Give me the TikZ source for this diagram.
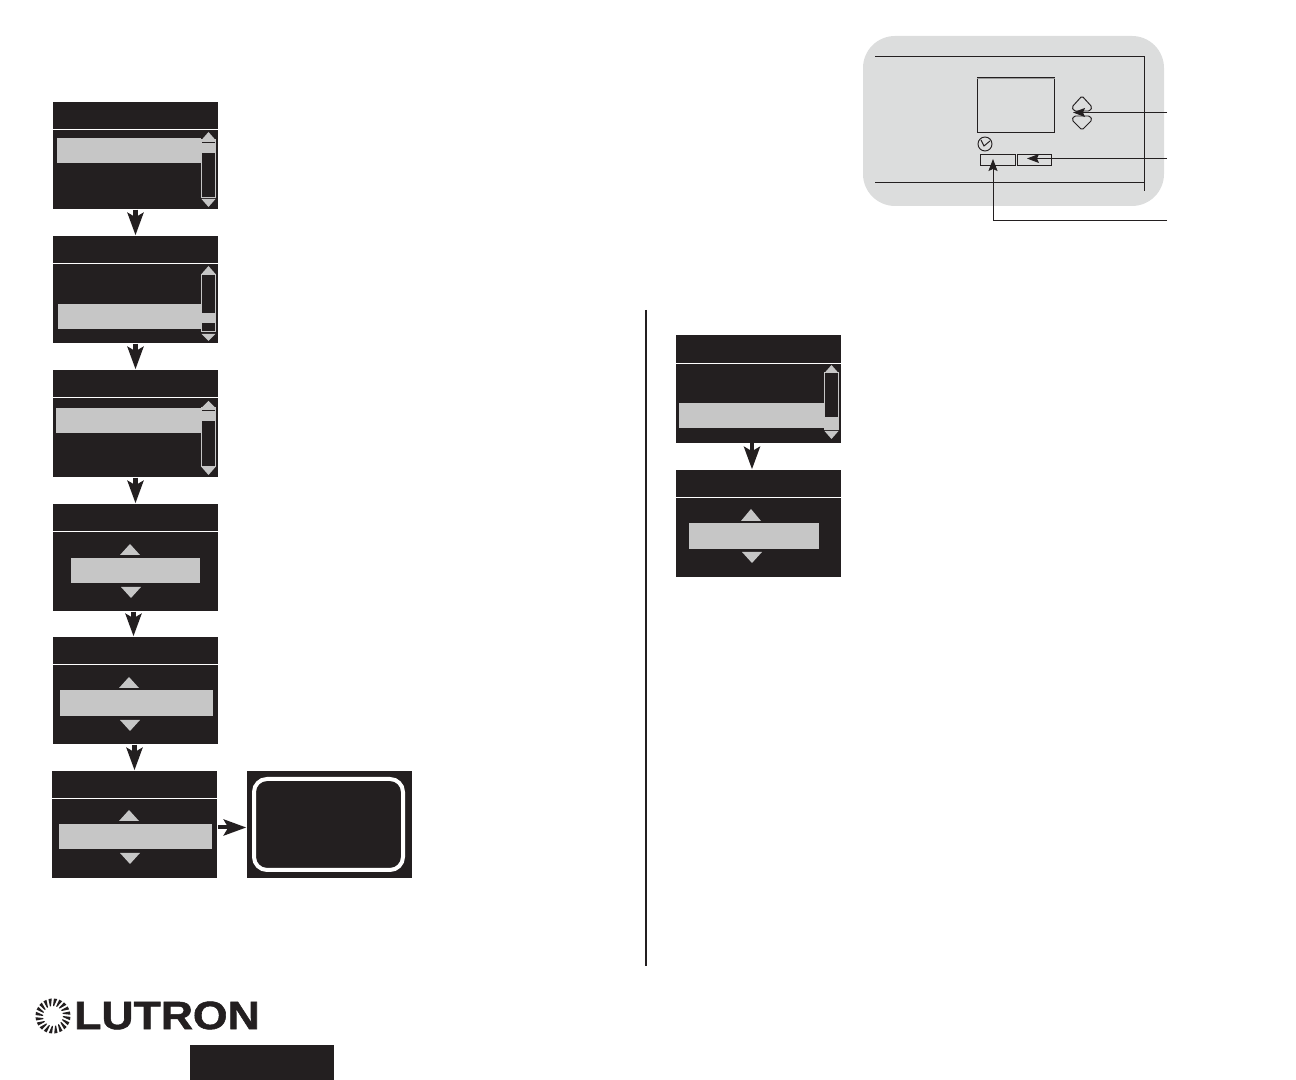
\documentclass[tikz,border=0pt]{standalone}
\usepackage{fontspec}
\usetikzlibrary{arrows.meta}
\newfontfamily\logofont[FakeBold=1.3]{Liberation Sans Bold}
\definecolor{LCDdark}{HTML}{231F20}
\definecolor{LCDgrey}{HTML}{C6C6C6}
\definecolor{LCDpanel}{HTML}{DCDDDD}
\definecolor{LCDtop}{HTML}{9A9A9A}
\tikzset{
	lcd/.style={draw=none, fill=LCDdark, inner sep=0pt, minimum width=1.65cm, minimum height=1.07cm},
	flow/.style={LCDdark, line width=0.04cm, -{Stealth[length=0.225cm, width=0.16cm, inset=0.045cm]}},
	leader/.style={LCDdark, line width=0.0095cm, -{Stealth[length=0.12cm, width=0.09cm, inset=0.02cm]}},
	thin line/.style={LCDdark, line width=0.0095cm},
	softkey/.style={draw=LCDdark, line width=0.0095cm, inner sep=0pt, minimum height=0.11cm},
}
\begin{document}
\begin{tikzpicture}[x=0.01cm, y=-0.01cm]
	\useasboundingbox (0, 0) rectangle (1296, 1080);
	% screens
	\foreach \n/\x/\y in {S1/135.5/155.5, S2/135.5/289.5, S3/135.5/423.5, S4/135.5/557.5, S5/135.5/690.5, S6/134.5/824.5, S7/329.5/824.5, R1/758.5/389, R2/758.5/523.5}{
		\node[lcd] (\n) at (\x, \y) {};
	}
	% title separators
	\foreach \n in {S1, S2, S3, S4, S5, S6, R1, R2}{
		\draw[white, line width=0.012cm] ([yshift=-0.285cm]\n.north west) -- ([yshift=-0.285cm]\n.north east);
	}
	% highlight bars
	\foreach \xa/\ya/\xb/\yb in {57/138/201/163, 58/304/201/329, 56/408/201/433, 71/558/200/583, 60/690/213/716, 59/824/212/849, 679/403/824/428, 689/523/819/549}{
		\fill[LCDgrey] (\xa, \ya) rectangle (\xb, \yb);
	}
	% scroll bars
	\foreach \xa/\xb/\t/\b/\p/\q in {201.5/215.5/140/198/140/153, 201.5/215.5/275/332/313/323, 201.5/215.5/408/467/408/421, 824.5/838.5/373/430/417/429}{
		\fill[LCDgrey] (\xa, \p) rectangle (\xb, \q);
		\draw[LCDgrey, line width=0.01cm] (\xa, \t) rectangle (\xb, \b);
	}
	\draw[LCDdark, line width=0.008cm] (202, 142.5) -- (215, 142.5);
	\draw[LCDdark, line width=0.008cm] (202, 410.5) -- (215, 410.5);
	% small triangles
	\foreach \x/\a/\b in {208.5/132/140, 208.5/207/199, 208.5/266/274, 208.5/341/334, 208.5/401/408, 208.5/475/467, 831.5/365/373, 831.5/439/431}{
		\fill[LCDgrey] (\x - 7, \b) -- (\x + 7, \b) -- (\x, \a) -- cycle;
	}
	% large triangles
	\foreach \x/\a/\b in {130/544/555, 131/598/587, 129/677/688, 130/731/720, 129/810/821, 130/864/853, 751/509/521, 752/563/552}{
		\fill[LCDgrey] (\x - 10, \b) -- (\x + 10, \b) -- (\x, \a) -- cycle;
	}
	% done screen frame
	\draw[white, line width=0.04cm, rounded corners=0.13cm] (254, 779) rectangle (403, 870);
	% flow arrows
	\draw[flow] (S1.south) -- (S2.north);
	\draw[flow] (S2.south) -- (S3.north);
	\draw[flow] (S3.south) -- (S4.north);
	\draw[flow] ([xshift=-0.02cm]S4.south) -- ([xshift=-0.02cm]S5.north);
	\draw[flow] ([xshift=-0.01cm]S5.south) -- (S6.north);
	\draw[flow] ([yshift=-0.03cm]S6.east) -- ([yshift=-0.03cm]S7.west);
	\draw[flow] ([xshift=-0.065cm]R1.south) -- ([xshift=-0.065cm]R2.north);
	% divider
	\draw[LCDdark, line width=0.025cm] (646, 310) -- (646, 966);
	% control panel
	\fill[LCDpanel, rounded corners=0.32cm] (863, 36) rectangle (1164, 206);
	\draw[thin line] (875, 56.5) -- (1144, 56.5) -- (1144, 191);
	\draw[thin line] (875, 182.5) -- (1144, 182.5);
	\node[draw=LCDdark, line width=0.0095cm, inner sep=0pt, minimum width=0.77cm, minimum height=0.54cm] (display) at (1015.5, 105) {};
	\draw[LCDtop, line width=0.018cm] ([yshift=-0.01cm]display.north west) -- ([yshift=-0.01cm]display.north east);
	\draw[thin line] (985, 144) circle (7);
	\draw[thin line] (981, 140) -- (984, 146) -- (990, 141);
	\node[softkey, minimum width=0.35cm] (keyA) at (997.5, 159.5) {};
	\node[softkey, minimum width=0.34cm] (keyB) at (1034, 159.5) {};
	\draw[thin line, rounded corners=0.015cm] (1082, 96) -- (1092, 107) -- (1090, 111) -- (1074, 111) -- (1072, 107) -- cycle;
	\draw[thin line, rounded corners=0.015cm] (1074, 116) -- (1090, 116) -- (1092, 120) -- (1082, 130) -- (1072, 120) -- cycle;
	% leaders
	\coordinate (endA) at (1167, 112.5);
	\coordinate (tipA) at (1073, 112.5);
	\coordinate (endB) at (1167, 158.5);
	\coordinate (tipB) at (1027, 158.5);
	\coordinate (endC) at (1167, 220.5);
	\coordinate (tipC) at (993, 159);
	\draw[leader] (endA) -- (tipA);
	\draw[leader] (endB) -- (tipB);
	\draw[leader] (endC) -| (tipC);
	% logo
	\begin{scope}[shift={(53, 1016)}]
		\foreach \a in {0, 18, ..., 342}{
			\fill[LCDdark] (\a:10) -- (\a + 6:10) -- (\a + 14:17.5) -- (\a + 3:17.5) -- cycle;
		}
	\end{scope}
	\node[inner sep=0pt, anchor=west, xscale=1.13, text=LCDdark] (logo) at (73.5, 1015.5) {\fontsize{11.2pt}{12pt}\logofont LUTRON};
	\node[fill=LCDdark, inner sep=0pt, minimum width=1.44cm, minimum height=0.36cm, anchor=north west] (tag) at (189.5, 1044) {};
\end{tikzpicture}
\end{document}
